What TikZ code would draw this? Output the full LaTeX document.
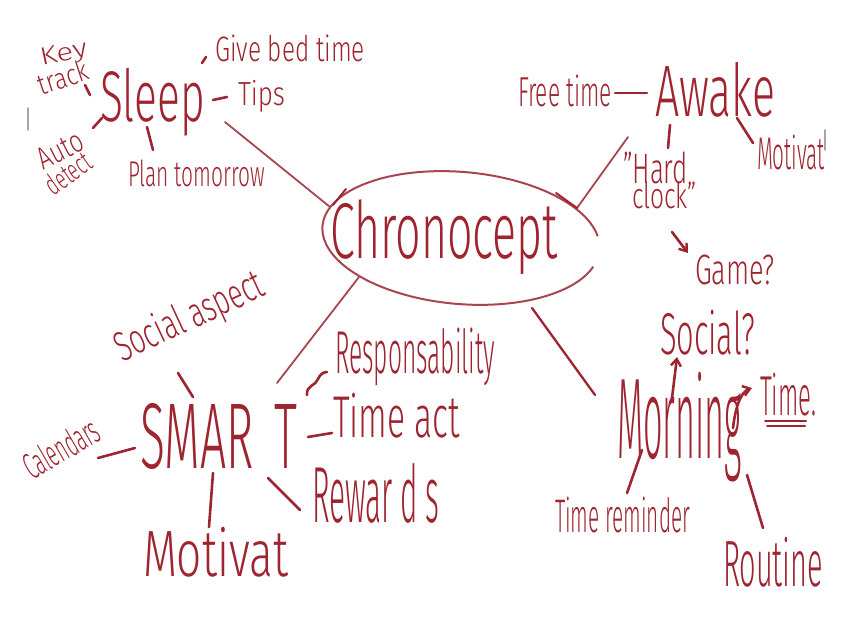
\documentclass[tikz,border=0pt]{standalone}
\usepackage{fontspec}
\IfFontExistsTF{Fira Sans Light}{\setmainfont{Fira Sans Light}}{\setmainfont{Fira Sans}}
\usepackage{graphicx}
\usetikzlibrary{arrows.meta}
\definecolor{ink}{RGB}{158,36,48}
\definecolor{inklight}{RGB}{168,70,80}
\newcommand{\fitbox}[3]{\resizebox*{#1pt}{#2pt}{#3}}
\tikzset{
  hw/.style={inner sep=0pt, outer sep=0pt, text=ink, anchor=north west},
  hwr/.style={inner sep=0pt, outer sep=0pt, text=ink, anchor=center},
  tick/.style={draw=ink, line width=2.6pt, line cap=round},
  link/.style={draw=inklight, line width=1.8pt, line cap=round},
  smudge/.style={draw=black!35, line width=1.5pt, line cap=round},
  harrow/.style={tick, -{Straight Barb[length=7pt,width=10pt,line width=2.4pt]}}
}
\begin{document}
\begin{tikzpicture}[x=1pt,y=-1pt]
\useasboundingbox (0,0) rectangle (850,628);
\fill[white] (0,0) rectangle (850,628);

% ---------- Sleep cluster ----------
\node[hwr, rotate=12] (keyw) at (64,55) {\fitbox{48}{22}{Key}};
\node[hwr, rotate=18] (track) at (63,77) {\fitbox{52}{22}{track}};
\node[hw] (sleep) at (100,68) {\fitbox{105}{68}{Sleep}};
\node[hwr, rotate=27] (auto) at (60,150) {\fitbox{48}{22}{Auto}};
\node[hwr, rotate=35] (detect) at (68,173) {\fitbox{50}{22}{detect}};
\node[hw] (plan) at (128,160) {\fitbox{137}{27}{Plan tomorrow}};
\node[hw] (give) at (215,35) {\fitbox{150}{27}{Give bed time}};
\node[hw] (tips) at (238,80) {\fitbox{47}{32}{Tips}};

\coordinate (s1a) at (85,85);   \coordinate (s1b) at (90,95);
\coordinate (s2a) at (93,128);  \coordinate (s2b) at (102,118);
\coordinate (s3a) at (147,127); \coordinate (s3b) at (153,150);
\coordinate (s4a) at (202,63);  \coordinate (s4b) at (206,57);
\coordinate (s5a) at (213,100); \coordinate (s5b) at (227,97);
\draw[tick] (s1a) -- (s1b);
\draw[tick] (s2a) -- (s2b);
\draw[tick] (s3a) -- (s3b);
\draw[tick] (s4a) -- (s4b);
\draw[tick] (s5a) -- (s5b);

% ---------- Central ellipse ----------
\node[hw] (chrono) at (330,200) {\fitbox{228}{75}{Chronocept}};
\draw[inklight, line width=2pt, shift={(461,238)}, rotate=-5]
  (-12:139 and 66) arc[start angle=-12, end angle=-345, x radius=139, y radius=66];

\coordinate (sleepend) at (225,122); \coordinate (ellsleep) at (330,207);
\coordinate (hookA) at (333,205); \coordinate (hookB) at (346,189);
\draw[link] (sleepend) -- (ellsleep);
\draw[tick, line width=2pt] (hookA) -- (hookB);

% ---------- Awake cluster ----------
\node[hw] (free) at (518,75) {\fitbox{94}{32}{Free time}};
\node[hw] (awake) at (655,62) {\fitbox{120}{55}{Awake}};
\node[hw] (motiv1) at (757,135) {\fitbox{68}{35}{Motivat}};
\node[hw] (hard) at (623,152) {\fitbox{65}{32}{"Hard}};
\node[hw] (clock) at (632,182) {\fitbox{65}{27}{clock"}};
\node[hw] (game) at (695,255) {\fitbox{80}{30}{Game?}};

\coordinate (a1a) at (615,93);  \coordinate (a1b) at (647,93);
\coordinate (a2a) at (670,125); \coordinate (a2b) at (668,148);
\coordinate (a3a) at (737,118); \coordinate (a3b) at (753,143);
\coordinate (a4a) at (672,232); \coordinate (a4b) at (688,253);
\draw[tick] (a1a) -- (a1b);
\draw[tick] (a2a) -- (a2b);
\draw[tick] (a3a) -- (a3b);
\draw[harrow] (a4a) -- (a4b);

\coordinate (awend) at (628,137); \coordinate (ellaw) at (577,208);
\coordinate (awhk) at (556,193);
\draw[link] (awend) -- (ellaw);
\draw[tick, line width=2pt] (awhk) -- (ellaw);

% ---------- SMART cluster ----------
\node[hwr, rotate=25] (social) at (190,318) {\fitbox{160}{40}{Social aspect}};
\node[hwr, rotate=30] (cal) at (61,448) {\fitbox{82}{28}{Calendars}};
\node[hw] (smart) at (140,403) {\fitbox{157}{66}{SMAR\hspace{0.45em}T}};
\node[hw] (resp) at (335,328) {\fitbox{160}{58}{Responsability}};
\node[hw] (timeact) at (333,393) {\fitbox{127}{45}{Time act}};
\node[hw] (rewards) at (312,463) {\fitbox{127}{60}{Rewar\kern0.25em d\kern0.25em s}};
\node[hw] (motiv2) at (143,527) {\fitbox{145}{50}{Motivat}};

\coordinate (m1a) at (178,373); \coordinate (m1b) at (193,397);
\coordinate (m2a) at (98,458);  \coordinate (m2b) at (135,448);
\coordinate (m3a) at (307,395); \coordinate (m3b) at (327,372);
\coordinate (m4a) at (308,437); \coordinate (m4b) at (332,433);
\coordinate (m5a) at (268,478); \coordinate (m5b) at (300,510);
\coordinate (m6a) at (213,473); \coordinate (m6b) at (209,527);
\draw[tick] (m1a) -- (m1b);
\draw[tick] (m2a) -- (m2b);
\draw[tick] (m3a) .. controls (306,385) and (316,386) .. (318,379) .. controls (320,374) and (324,372) .. (m3b);
\draw[tick] (m4a) -- (m4b);
\draw[tick] (m5a) -- (m5b);
\draw[tick] (m6a) -- (m6b);

\coordinate (smend) at (277,383); \coordinate (ellsm) at (359,277);
\draw[link] (smend) -- (ellsm);

% ---------- Morning cluster ----------
\node[hw] (morning) at (617,372) {\fitbox{125}{110}{Morning}};
\node[hw] (social2) at (660,310) {\fitbox{95}{45}{Social?}};
\node[hw] (timew) at (760,373) {\fitbox{56}{43}{Time.}};
\node[hw] (timerem) at (555,497) {\fitbox{135}{36}{Time reminder}};
\node[hw] (routine) at (723,537) {\fitbox{100}{50}{Routine}};

\coordinate (ellmo) at (532,308); \coordinate (moend) at (595,395);
\draw[tick, line width=2.3pt] (ellmo) -- (moend);

\coordinate (g1a) at (672,398); \coordinate (g1b) at (677,357);
\draw[harrow] (g1a) -- (g1b);
\coordinate (g2a) at (733,428); \coordinate (g2b) at (752,388);
\draw[harrow] (g2a) .. controls (735,410) and (740,392) .. (g2b);
\coordinate (u1a) at (765,421); \coordinate (u1b) at (806,421);
\coordinate (u2a) at (767,426); \coordinate (u2b) at (805,426);
\draw[tick, line width=2pt] (u1a) -- (u1b);
\draw[tick, line width=2pt] (u2a) -- (u2b);
\coordinate (g3a) at (642,450); \coordinate (g3b) at (627,493);
\draw[tick] (g3a) -- (g3b);
\coordinate (g4a) at (747,475); \coordinate (g4b) at (763,528);
\draw[tick] (g4a) -- (g4b);

% ---------- faint smudges ----------
\coordinate (sm1a) at (28,108); \coordinate (sm1b) at (28,130);
\coordinate (sm2a) at (825,130); \coordinate (sm2b) at (825,150);
\draw[smudge] (sm1a) -- (sm1b);
\draw[smudge] (sm2a) -- (sm2b);
\end{tikzpicture}
\end{document}
